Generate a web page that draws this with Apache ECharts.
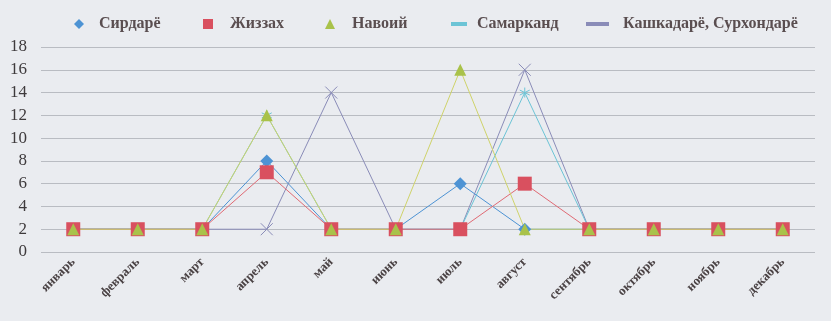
<!DOCTYPE html>
<html>
<head>
<meta charset="utf-8">
<script src="https://cdn.jsdelivr.net/npm/echarts@6/dist/echarts.min.js"></script>
<style>
  html, body { margin: 0; padding: 0; background: #eaecf0; }
  #chart { width: 831px; height: 321px; }
</style>
</head>
<body>
<div id="chart"></div>
<script>
// месяцы
var months = ['январь', 'февраль', 'март', 'апрель', 'май', 'июнь', 'июль', 'август', 'сентябрь', 'октябрь', 'ноябрь', 'декабрь'];
// серии
var sirdaryo = [2, 2, 2, 8, 2, 2, 6, 2, 2, 2, 2, 2];
var jizzakh = [2, 2, 2, 7, 2, 2, 2, 6, 2, 2, 2, 2];
var navoiy = [2, 2, 2, 12, 2, 2, 16, 2, 2, 2, 2, 2];
var samarkand = [2, 2, 2, 12, 2, 2, 2, 14, 2, 2, 2, 2];
var kashkadaryo = [2, 2, 2, 2, 14, 2, 2, 16, 2, 2, 2, 2];
var yTicks = [0, 2, 4, 6, 8, 10, 12, 14, 16, 18];

var chart = echarts.init(document.getElementById('chart'));

var serif = 'Liberation Serif';
var crossPath = 'path://M0,0L10,10M10,0L0,10';
var starPath = 'path://M5,0L5,10M0,2.5L10,7.5M10,2.5L0,7.5';

// одна легенда на каждый пункт, чтобы поставить их как в оригинале
function legendItem(name, left, icon, w, h, color, gap) {
  return {
    top: 11,
    left: left,
    itemWidth: w,
    itemHeight: h,
    itemStyle: color ? { color: color } : {},
    textStyle: {
      fontFamily: serif, fontWeight: 'bold', fontSize: 16, color: '#5a4e50',
      padding: [0, 0, 0, gap]
    },
    data: [{ name: name, icon: icon }]
  };
}

var option = {
  backgroundColor: '#eaecf0',
  animation: false,
  legend: [
    legendItem('Сирдарё', 69, 'diamond', 10, 10, null, 10),
    legendItem('Жиззах', 198, 'rect', 10, 10, null, 12),
    legendItem('Навоий', 320, 'triangle', 10, 10, null, 12),
    legendItem('Самарканд', 446, 'rect', 14, 2, '#bcc6d0', 6),
    legendItem('Кашкадарё, Сурхондарё', 581, 'rect', 21, 2, '#bfc0ca', 10)
  ],
  grid: { left: 41, right: 16, top: 47, bottom: 69, containLabel: false },
  xAxis: {
    type: 'category',
    data: months,
    boundaryGap: true,
    axisLine: { show: false },
    axisTick: { show: false },
    axisLabel: {
      rotate: 45,
      interval: 0,
      margin: 8,
      fontFamily: serif,
      fontWeight: 'bold',
      fontSize: 13,
      color: '#4a4244'
    }
  },
  yAxis: {
    type: 'value',
    min: 0,
    max: 18,
    interval: 2,
    axisLine: { show: false },
    axisTick: { show: false },
    axisLabel: {
      margin: 14,
      fontFamily: serif,
      fontSize: 17,
      color: '#3e3a3c',
      formatter: function (v) { return yTicks.indexOf(v) >= 0 ? String(v) : ''; }
    },
    splitLine: { lineStyle: { color: '#b9bcc2', width: 1 } }
  },
  series: [
    {
      name: 'Кашкадарё, Сурхондарё',
      type: 'line',
      data: kashkadaryo,
      symbol: crossPath,
      symbolSize: 12,
      lineStyle: { color: '#8a8cb8', width: 1 },
      itemStyle: { color: 'rgba(0,0,0,0)', borderColor: '#8a8cb8', borderWidth: 1 }
    },
    {
      name: 'Самарканд',
      type: 'line',
      data: samarkand,
      symbol: starPath,
      symbolSize: 10,
      lineStyle: { color: '#6cc4d6', width: 1 },
      itemStyle: { color: 'rgba(0,0,0,0)', borderColor: '#6cc4d6', borderWidth: 1 }
    },
    {
      name: 'Сирдарё',
      type: 'line',
      data: sirdaryo,
      symbol: 'diamond',
      symbolSize: 13,
      lineStyle: { color: '#4d93d4', width: 1 },
      itemStyle: { color: '#4d93d4' }
    },
    {
      name: 'Жиззах',
      type: 'line',
      data: jizzakh,
      symbol: 'rect',
      symbolSize: 14,
      lineStyle: { color: '#e06a74', width: 1 },
      itemStyle: { color: '#d9505f' }
    },
    {
      name: 'Навоий',
      type: 'line',
      data: navoiy,
      symbol: 'triangle',
      symbolSize: 12,
      lineStyle: { color: '#cfd36a', width: 1 },
      itemStyle: { color: '#a9c24a' }
    }
  ]
};
chart.setOption(option);
</script>
</body>
</html>
